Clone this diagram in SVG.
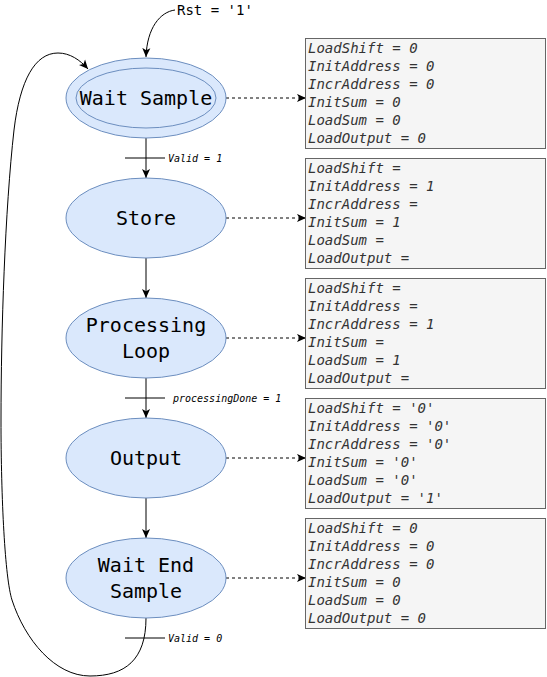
<svg xmlns="http://www.w3.org/2000/svg" width="547" height="677" viewBox="0 0 547 677">
<style>
.st{fill:#dae8fc;stroke:#6c8ebf;stroke-width:1}
.box{fill:#f5f5f5;stroke:#666666;stroke-width:1}
.nt{font-family:"DejaVu Sans Mono",monospace;font-size:20px;fill:#000;text-anchor:middle}
.bt{font-family:"DejaVu Sans Mono",monospace;font-size:14px;font-style:italic;fill:#333333}
.lbl{font-family:"DejaVu Sans Mono",monospace;font-size:10px;font-style:italic;fill:#000}
.rst{font-family:"DejaVu Sans Mono",monospace;font-size:14px;fill:#000}
.e{fill:none;stroke:#000;stroke-width:1}
.d{fill:none;stroke:#000;stroke-width:1;stroke-dasharray:3 3}
</style>
<defs>
<marker id="arr" viewBox="0 0 10 10" refX="10" refY="5" markerWidth="9" markerHeight="9" orient="auto" markerUnits="userSpaceOnUse">
<path d="M0,0.5 L10,5 L0,9.5 L2.5,5 z" fill="#000"/>
</marker>
</defs>
<rect width="547" height="677" fill="#ffffff"/>
<g id="connectors">
<path class="e" d="M175,10 C160,12 147,28 146,57" marker-end="url(#arr)"/>
<path class="e" d="M146,138 L146,178" marker-end="url(#arr)"/>
<line class="e" x1="125" y1="158" x2="165" y2="158"/>
<text class="lbl" x="168" y="161.5">Valid = 1</text>
<path class="e" d="M146,258 L146,298" marker-end="url(#arr)"/>
<path class="e" d="M146,378 L146,418" marker-end="url(#arr)"/>
<line class="e" x1="125" y1="398" x2="165" y2="398"/>
<text class="lbl" x="173" y="401.5">processingDone = 1</text>
<path class="e" d="M146,498 L146,538" marker-end="url(#arr)"/>
<path class="e" d="M146,618 C146,660 125,676 90,676 C55,676 25,640 12,600 C5,578 1,500 1,420 C1,330 5,210 14,130 C20,80 35,53 58,53 C70,53 80,60 88,69" marker-end="url(#arr)"/>
<line class="e" x1="125" y1="638" x2="165" y2="638"/>
<text class="lbl" x="168" y="641.5">Valid = 0</text>
<path class="d" d="M226,98 L306,98" marker-end="url(#arr)"/>
<path class="d" d="M226,218 L306,218" marker-end="url(#arr)"/>
<path class="d" d="M226,338 L306,338" marker-end="url(#arr)"/>
<path class="d" d="M226,458 L306,458" marker-end="url(#arr)"/>
<path class="d" d="M226,578 L306,578" marker-end="url(#arr)"/>
</g>
<text class="rst" x="177" y="15">Rst = '1'</text>
<g id="waitSample">
<ellipse class="st" cx="146" cy="98" rx="80" ry="40"/>
<ellipse class="st" cx="146" cy="98" rx="70" ry="30"/>
<text class="nt" x="146" y="105">Wait Sample</text>
</g>
<g id="store">
<ellipse class="st" cx="146" cy="218" rx="80" ry="40"/>
<text class="nt" x="146" y="225">Store</text>
</g>
<g id="processingLoop">
<ellipse class="st" cx="146" cy="338" rx="80" ry="40"/>
<text class="nt" x="146" y="332">Processing</text>
<text class="nt" x="146" y="358">Loop</text>
</g>
<g id="output">
<ellipse class="st" cx="146" cy="458" rx="80" ry="40"/>
<text class="nt" x="146" y="465">Output</text>
</g>
<g id="waitEndSample">
<ellipse class="st" cx="146" cy="578" rx="80" ry="40"/>
<text class="nt" x="146" y="572">Wait End</text>
<text class="nt" x="146" y="598">Sample</text>
</g>
<g id="box1">
<rect class="box" x="305.5" y="38.5" width="240" height="110"/>
<text class="bt" x="308"><tspan x="308" y="53">LoadShift = 0</tspan><tspan x="308" y="71">InitAddress = 0</tspan><tspan x="308" y="89">IncrAddress = 0</tspan><tspan x="308" y="107">InitSum = 0</tspan><tspan x="308" y="125">LoadSum = 0</tspan><tspan x="308" y="143">LoadOutput = 0</tspan></text>
</g>
<g id="box2">
<rect class="box" x="305.5" y="158.5" width="240" height="110"/>
<text class="bt" x="308"><tspan x="308" y="173">LoadShift =</tspan><tspan x="308" y="191">InitAddress = 1</tspan><tspan x="308" y="209">IncrAddress =</tspan><tspan x="308" y="227">InitSum = 1</tspan><tspan x="308" y="245">LoadSum =</tspan><tspan x="308" y="263">LoadOutput =</tspan></text>
</g>
<g id="box3">
<rect class="box" x="305.5" y="278.5" width="240" height="110"/>
<text class="bt" x="308"><tspan x="308" y="293">LoadShift =</tspan><tspan x="308" y="311">InitAddress =</tspan><tspan x="308" y="329">IncrAddress = 1</tspan><tspan x="308" y="347">InitSum =</tspan><tspan x="308" y="365">LoadSum = 1</tspan><tspan x="308" y="383">LoadOutput =</tspan></text>
</g>
<g id="box4">
<rect class="box" x="305.5" y="398.5" width="240" height="110"/>
<text class="bt" x="308"><tspan x="308" y="413">LoadShift = '0'</tspan><tspan x="308" y="431">InitAddress = '0'</tspan><tspan x="308" y="449">IncrAddress = '0'</tspan><tspan x="308" y="467">InitSum = '0'</tspan><tspan x="308" y="485">LoadSum = '0'</tspan><tspan x="308" y="503">LoadOutput = '1'</tspan></text>
</g>
<g id="box5">
<rect class="box" x="305.5" y="518.5" width="240" height="110"/>
<text class="bt" x="308"><tspan x="308" y="533">LoadShift = 0</tspan><tspan x="308" y="551">InitAddress = 0</tspan><tspan x="308" y="569">IncrAddress = 0</tspan><tspan x="308" y="587">InitSum = 0</tspan><tspan x="308" y="605">LoadSum = 0</tspan><tspan x="308" y="623">LoadOutput = 0</tspan></text>
</g>
</svg>
